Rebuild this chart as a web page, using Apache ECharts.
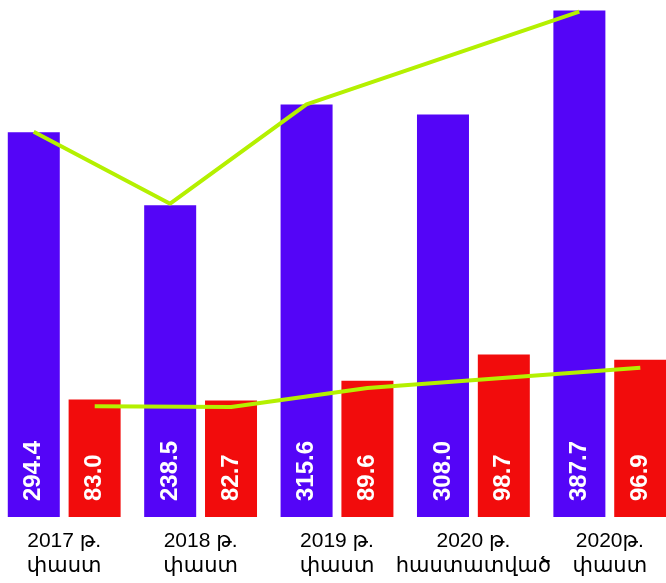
<!DOCTYPE html>
<html>
<head>
<meta charset="utf-8">
<title>chart</title>
<script src="https://cdn.jsdelivr.net/npm/echarts@6/dist/echarts.min.js"></script>
<style>
  html, body { margin: 0; padding: 0; background: #fff; }
  #main { width: 666px; height: 583px; }
</style>
</head>
<body>
<div id="main"></div>
<script>
// categories (x axis)
const categories = [
  "2017 թ.\nփաստ",
  "2018 թ.\nփաստ",
  "2019 թ.\nփաստ",
  "2020 թ.\nհաստատված",
  "2020թ.\nփաստ"
];
// bar values
const purpleValues = [294.4, 238.5, 315.6, 308.0, 387.7];
const redValues = [83.0, 82.7, 89.6, 98.7, 96.9];
// the trend lines only join the "fact" years (plan year skipped)
const isPlan = [false, false, false, true, false];

const chart = echarts.init(document.getElementById("main"));

const barW = 52;
const gap = 9;
const catW = 682 / categories.length;
const off = (barW + gap) / 2 / catW; // bar centre offset in category units

function linePoints(values, shift) {
  const pts = [];
  values.forEach(function (v, i) {
    if (!isPlan[i]) pts.push([i + shift, v]);
  });
  return pts;
}

const labelStyle = {
  show: true,
  position: "insideBottom",
  rotate: 90,
  align: "left",
  verticalAlign: "middle",
  distance: 16,
  color: "#fff",
  fontSize: 24,
  fontWeight: "bold",
  fontFamily: "Liberation Sans, Arial, sans-serif",
  formatter: function (p) {
    return p.value.toFixed(1);
  },
};

chart.setOption({
  animation: false,
  grid: {
    left: -4,
    right: -12,
    top: 10,
    bottom: 66,
    outerBoundsMode: "none",
  },
  xAxis: [
    {
      type: "category",
      data: categories,
      axisLine: { show: false },
      axisTick: { show: false },
      axisLabel: {
        interval: 0,
        hideOverlap: false,
        margin: 12,
        color: "#000",
        fontSize: 21,
        lineHeight: 25,
        fontFamily: "Liberation Sans, Arial, DejaVu Sans, sans-serif",
      },
    },
    {
      type: "value",
      min: -0.5,
      max: categories.length - 0.5,
      show: false,
    },
  ],
  yAxis: [
    { type: "value", min: 0, max: 388, show: false },
    { type: "value", min: 42, max: 219, show: false },
    { type: "value", min: -5, max: 389, show: false },
    { type: "value", min: 43, max: 226, show: false },
  ],
  series: [
    {
      type: "bar",
      data: purpleValues,
      yAxisIndex: 0,
      barWidth: barW,
      barGap: (gap / barW * 100).toFixed(0) + "%",
      itemStyle: { color: "#5405F7" },
      label: labelStyle,
    },
    {
      type: "bar",
      data: redValues,
      yAxisIndex: 1,
      barWidth: barW,
      itemStyle: { color: "#F20C0C" },
      label: labelStyle,
    },
    {
      type: "line",
      xAxisIndex: 1,
      yAxisIndex: 2,
      data: linePoints(purpleValues, -off),
      symbol: "none",
      lineStyle: { color: "#B4F000", width: 4 },
      z: 5,
    },
    {
      type: "line",
      xAxisIndex: 1,
      yAxisIndex: 3,
      data: linePoints(redValues, off),
      symbol: "none",
      lineStyle: { color: "#B4F000", width: 4 },
      z: 5,
    },
  ],
});
</script>
</body>
</html>
